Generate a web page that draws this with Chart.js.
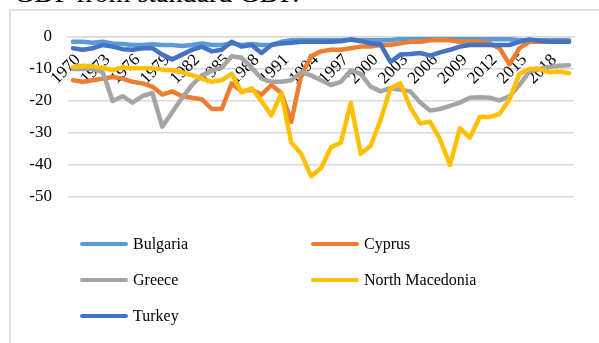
<!DOCTYPE html>
<html lang="en">
<head>
<meta charset="UTF-8">
<title>GDP deviation chart</title>
<style>
    body {
        margin: 0;
        background: #fff;
        font-family: "Liberation Serif", "Times New Roman", serif;
    }
    .page {
        position: relative;
        width: 599px;
        height: 343px;
        overflow: hidden;
    }
    .title {
        position: absolute;
        left: 14px;
        top: -21px;
        font-size: 28px;
        line-height: 28px;
        white-space: nowrap;
        color: #000;
    }
    .frame {
        position: absolute;
        left: 9px;
        top: 9px;
        width: 620px;
        height: 360px;
        border-left: 2px solid #e0e0e0;
        border-top: 2px solid #e0e0e0;
    }
    canvas {
        position: absolute;
        left: 0;
        top: 0;
    }
    .legend {
        position: absolute;
        left: 80px;
        top: 233px;
        width: 480px;
        display: grid;
        grid-template-columns: 231px 240px;
        row-gap: 14px;
        font-size: 16px;
        color: #000;
    }
    .item {
        display: flex;
        align-items: center;
        height: 22px;
    }
    .swatch {
        width: 48px;
        height: 4px;
        border-radius: 2px;
        margin-right: 5px;
    }
</style>
</head>
<body>
<div class="page">
    <div class="title">GDP from standard GDP.</div>
    <div class="frame"></div>
    <canvas id="gdpChart" width="599" height="343"></canvas>
    <div class="legend" id="legend"></div>
</div>

<script src="https://cdn.jsdelivr.net/npm/chart.js"></script>
<script>
    const years = [];
    for (let y = 1970; y <= 2020; y++) years.push(String(y));

    const countries = ['Bulgaria', 'Cyprus', 'Greece', 'North Macedonia', 'Turkey'];
    const colors = ['#5B9BD5', '#ED7D31', '#A5A5A5', '#FFC000', '#4472C4'];

    const yTicks = [0, -10, -20, -30, -40, -50];

    const bulgaria = [-1.5, -1.5, -1.8, -1.5, -2, -2.2, -2.5, -2.5, -2.3, -2.5,
        -2.5, -2.8, -2.5, -2, -2.5, -2.5, -2, -2.5, -2.2, -2.5,
        -2.5, -1.5, -1, -1, -1, -1, -1, -1, -0.8, -1,
        -1, -1, -1, -0.6, -0.6, -0.5, -0.5, -0.5, -0.4, -0.5,
        -0.6, -0.6, -0.7, -0.7, -0.7, -1, -1, -1, -1, -1, -1];

    const cyprus = [-13.5, -14, -13.5, -13, -12.5, -13, -14, -14.5, -15.5, -18,
        -17, -18.5, -19, -19.5, -22.5, -22.5, -14.5, -17, -16.5, -18,
        -15, -17.5, -26.5, -12, -6, -4.5, -4, -4, -3.5, -3,
        -3, -2.5, -2.5, -2, -1.5, -1.5, -1, -1, -1, -1.5,
        -1.5, -1.5, -2, -3.5, -8.5, -3.5, -1.5, -1.5, -1.5, -1.5, -1.5];

    const greece = [-10, -10, -10, -11, -20, -18.5, -20.5, -18.5, -17.5, -28,
        -23.5, -19, -15, -12, -10.5, -9.5, -6, -6.5, -9.5, -13,
        -14, -14, -13.5, -11, -12, -13.5, -15, -14, -10.5, -11.5,
        -15.5, -17, -16, -16.5, -17, -20.5, -23, -22.5, -21.5, -20.5,
        -19, -18.8, -19, -19.8, -18.5, -15, -10.8, -10, -9.4, -9, -8.8];

    const northMacedonia = [-9.4, -9, -9.2, -9.6, -10.4, -9.5, -9.8, -9.8, -9.8, -10.2,
        -10.4, -11, -12, -13, -14, -13.5, -11.5, -17.3, -16, -20,
        -24.5, -17.6, -33, -36.5, -43.5, -41, -34.5, -33, -20.6, -36.5,
        -34, -26, -16, -14.5, -22, -27, -26.5, -32, -40, -28.5,
        -31.5, -25, -25, -24, -19.5, -11.5, -10, -10, -11, -10.8, -11.3];

    const turkey = [-3.5, -4, -3.5, -2.5, -3, -3.8, -4, -3.5, -3.5, -5.5,
        -7, -5.5, -4, -3, -4.5, -4, -1.5, -3, -2.5, -5,
        -2.5, -2, -1.8, -1.5, -1.5, -1.5, -1.5, -1.3, -0.8, -1.3,
        -2, -2.3, -7.8, -5.5, -5.3, -5, -5.8, -4.8, -4, -3,
        -2.5, -2.5, -2.5, -2.5, -2.5, -1.5, -0.8, -1.2, -1.5, -1.5, -1.5];

    const series = [bulgaria, cyprus, greece, northMacedonia, turkey];

    const serif = '"Liberation Serif", "Times New Roman", serif';

    const data = {
        labels: years,
        datasets: countries.map((name, i) => ({
            label: name,
            data: series[i],
            borderColor: colors[i],
            backgroundColor: colors[i],
            borderWidth: 4.5,
            pointRadius: 0,
            tension: 0,
            borderCapStyle: 'round',
            borderJoinStyle: 'round',
            order: countries.length - i
        }))
    };

    const config = {
        type: 'line',
        data: data,
        options: {
            responsive: false,
            animation: false,
            layout: {
                padding: { left: 0, top: 37, right: 25, bottom: 146 }
            },
            plugins: {
                legend: { display: false },
                tooltip: { enabled: false }
            },
            scales: {
                x: {
                    position: { y: 0 },
                    offset: true,
                    z: 1,   // year labels sit on top of the lines
                    grid: { display: false, drawTicks: false },
                    border: { display: true, color: '#d9d9d9', width: 1.5 },
                    ticks: {
                        autoSkip: false,
                        maxRotation: 45,
                        minRotation: 45,
                        padding: 13,
                        labelOffset: 5,
                        color: '#000',
                        font: { family: serif, size: 17 },
                        callback: function (val, idx) {
                            return idx % 3 === 0 ? years[idx] : '';
                        }
                    }
                },
                y: {
                    min: -50,
                    max: 0,
                    afterBuildTicks: function (scale) {
                        scale.ticks = yTicks.map(v => ({ value: v }));
                    },
                    afterFit: function (scale) {
                        scale.width = 68;
                    },
                    grid: { color: '#d9d9d9', lineWidth: 1.5, drawTicks: false },
                    border: { display: false },
                    ticks: {
                        padding: 16,
                        color: '#000',
                        font: { family: serif, size: 17 }
                    }
                }
            }
        }
    };

    const gdpChart = new Chart(document.getElementById('gdpChart'), config);

    // legend in two columns, like the original
    const legendBox = document.getElementById('legend');
    countries.forEach((name, i) => {
        const item = document.createElement('div');
        item.className = 'item';
        item.innerHTML = '<span class="swatch" style="background:' + colors[i] + '"></span>' + name;
        legendBox.appendChild(item);
    });
</script>
</body>
</html>
